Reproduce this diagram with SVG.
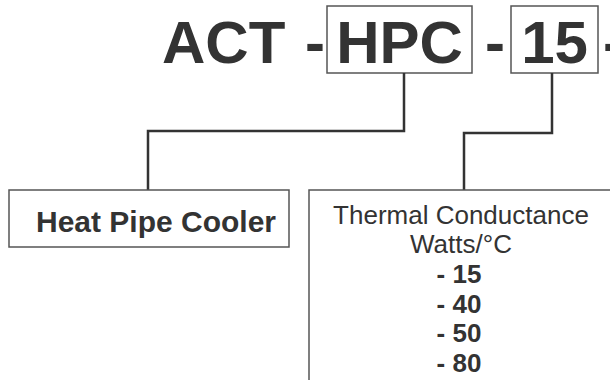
<svg xmlns="http://www.w3.org/2000/svg" width="610" height="380" viewBox="0 0 610 380">
<style>
.t{font-family:"Liberation Sans",Arial,sans-serif;fill:#333}
.big{font-size:60px;font-weight:bold}
.mid{font-size:26px;text-anchor:middle}
.b{font-weight:bold}
.box{fill:#fff;stroke:#555;stroke-width:1.5}
.con{fill:none;stroke:#333;stroke-width:2.5}
</style>
<rect width="610" height="380" fill="#fff"/>
<g id="code">
<text class="t big" x="162" y="63">ACT</text>
<text class="t big" x="305" y="63">-</text>
<text class="t big" x="485" y="63">-</text>
<text class="t big" x="603" y="63">-</text>
</g>
<g id="hpc">
<rect class="box" x="327" y="6" width="145" height="67"/>
<text class="t big" x="399.5" y="63" text-anchor="middle">HPC</text>
</g>
<g id="n15">
<rect class="box" x="511" y="6" width="87" height="67"/>
<text class="t big" x="554.5" y="63" text-anchor="middle">15</text>
</g>
<g id="connectors">
<polyline class="con" points="404,73 404,131 148,131 148,190"/>
<polyline class="con" points="552,73 552,133 464,133 464,190"/>
</g>
<g id="heatpipe">
<rect class="box" x="9" y="190" width="280" height="57"/>
<text class="t b" x="156" y="232" text-anchor="middle" font-size="30">Heat Pipe Cooler</text>
</g>
<g id="thermal">
<rect class="box" x="309" y="190" width="320" height="200"/>
<text class="t mid" x="461" y="224">Thermal Conductance</text>
<text class="t mid" x="461" y="253">Watts/°C</text>
<text class="t mid b" x="459" y="283">- 15</text>
<text class="t mid b" x="459" y="313">- 40</text>
<text class="t mid b" x="459" y="342">- 50</text>
<text class="t mid b" x="459" y="372">- 80</text>
</g>
</svg>
